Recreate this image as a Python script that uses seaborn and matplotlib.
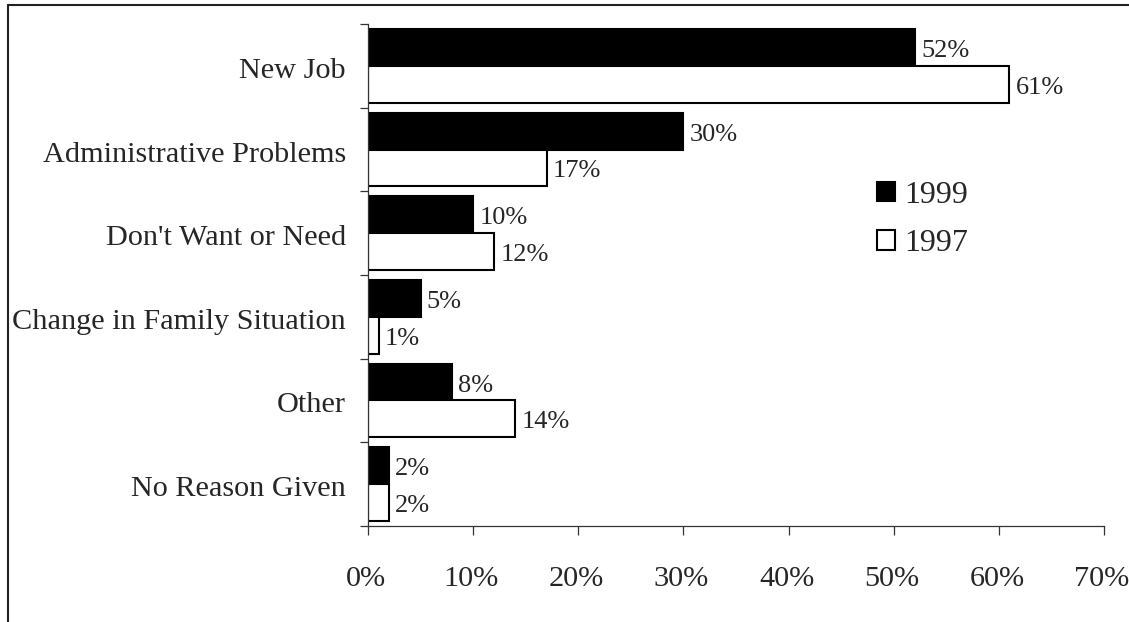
import matplotlib
matplotlib.use("Agg")
import matplotlib.pyplot as plt
from matplotlib.lines import Line2D
from matplotlib.patches import Patch
from matplotlib.transforms import ScaledTranslation
import seaborn as sns
import pandas as pd

reasons = ["New Job", "Administrative Problems", "Don't Want or Need",
           "Change in Family Situation", "Other", "No Reason Given"]
pct_1999 = [52, 30, 10, 5, 8, 2]
pct_1997 = [61, 17, 12, 1, 14, 2]
years = ["1999", "1997"]
x_ticks = [0, 10, 20, 30, 40, 50, 60, 70]
x_tick_labels = ["0%", "10%", "20%", "30%", "40%", "50%", "60%", "70%"]

df = pd.DataFrame({
    "reason": reasons * 2,
    "pct": pct_1999 + pct_1997,
    "year": ["1999"] * len(reasons) + ["1997"] * len(reasons),
})

sns.set_theme(style="white")
plt.rcParams["font.family"] = ["Liberation Serif", "DejaVu Serif"]

fig = plt.figure(figsize=(11.29, 6.22), dpi=100)
ax = fig.add_axes([368 / 1129, 1 - 526 / 622, (1104 - 368) / 1129, (526 - 24) / 622])

sns.barplot(data=df, y="reason", x="pct", hue="year", hue_order=years,
            order=reasons, orient="h", palette={"1999": "black", "1997": "white"},
            edgecolor="black", linewidth=1.5, width=0.88, gap=0, ax=ax,
            legend=False, errorbar=None)

ax.set_xlim(0, 70)
ax.set_ylim(len(reasons) - 0.5, -0.5)
ax.set_xlabel("")
ax.set_ylabel("")

# value labels beside each bar
for cont, vals in zip(ax.containers, [pct_1999, pct_1997]):
    anns = ax.bar_label(cont, labels=[f"{v}%" for v in vals], padding=4.5, fontsize=19)
    for a in anns:
        x_off, y_off = a.xyann
        a.xyann = (x_off, y_off - 2.5)

# axes styling
for side in ["top", "right"]:
    ax.spines[side].set_visible(False)
for side in ["left", "bottom"]:
    ax.spines[side].set_color("#333333")
    ax.spines[side].set_linewidth(0.9)

ax.set_xticks(x_ticks)
ax.set_xticklabels(x_tick_labels, fontsize=21.8)
ax.tick_params(axis="x", direction="out", length=6.5, width=0.9, color="#333333",
               pad=22, bottom=True)

ax.set_yticks(range(len(reasons)))
ax.set_yticklabels(reasons, fontsize=21.8)
ax.set_yticks([i - 0.5 for i in range(len(reasons) + 1)], minor=True)
ax.tick_params(axis="y", which="major", length=0, pad=16)
ax.tick_params(axis="y", which="minor", direction="out", length=6, width=0.9,
               color="#333333", left=True)

shift_left = ScaledTranslation(-2 / 100, 0, fig.dpi_scale_trans)
for lbl in ax.get_xticklabels():
    lbl.set_transform(lbl.get_transform() + shift_left)
shift_down = ScaledTranslation(0, -2 / 100, fig.dpi_scale_trans)
for lbl in ax.get_yticklabels():
    lbl.set_transform(lbl.get_transform() + shift_down)

handles = [Patch(facecolor="black", edgecolor="black", linewidth=1.5),
           Patch(facecolor="white", edgecolor="black", linewidth=1.5)]
fig.legend(handles, years, loc="upper left", bbox_to_anchor=(877 / 1129, 1 - 181 / 622),
           frameon=False, fontsize=23, handlelength=0.56, handleheight=0.56,
           handletextpad=0.28, labelspacing=0.6, borderpad=0, borderaxespad=0)

# outer frame (left and top edges)
fig.add_artist(Line2D([8 / 1129, 8 / 1129], [0, 1 - 4.5 / 622], transform=fig.transFigure,
                      color="#222222", linewidth=1.5))
fig.add_artist(Line2D([8 / 1129, 1], [1 - 4.5 / 622, 1 - 4.5 / 622], transform=fig.transFigure,
                      color="#222222", linewidth=1.5))

fig.savefig("out.png", dpi=100)
